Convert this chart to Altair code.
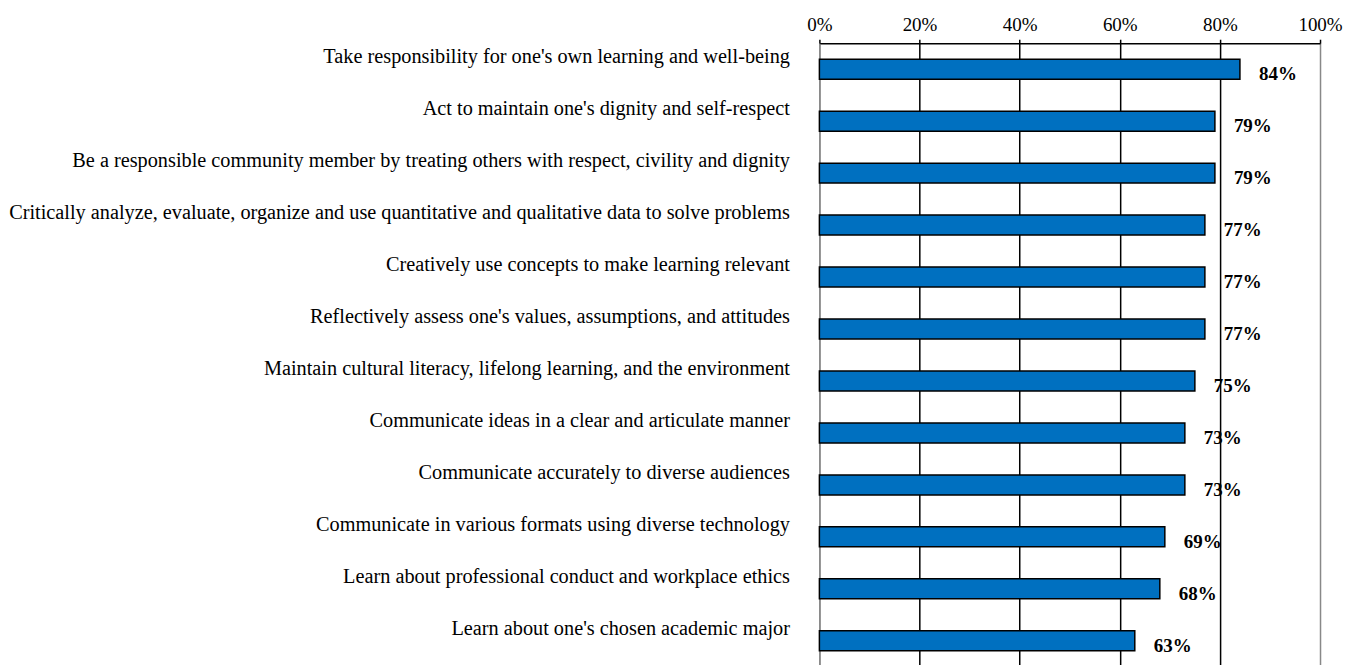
import altair as alt
import pandas as pd

categories = [
    "Take responsibility for one's own learning and well-being",
    "Act to maintain one's dignity and self-respect",
    "Be a responsible community member by treating others with respect, civility and dignity",
    "Critically analyze, evaluate, organize and use quantitative and qualitative data to solve problems",
    "Creatively use concepts to make learning relevant",
    "Reflectively assess one's values, assumptions, and attitudes",
    "Maintain cultural literacy, lifelong learning, and the environment",
    "Communicate ideas in a clear and articulate manner",
    "Communicate accurately to diverse audiences",
    "Communicate in various formats using diverse technology",
    "Learn about professional conduct and workplace ethics",
    "Learn about one's chosen academic major ",
]
values = [0.84, 0.79, 0.79, 0.77, 0.77, 0.77, 0.75, 0.73, 0.73, 0.69, 0.68, 0.63]
x_ticks = [0, 0.2, 0.4, 0.6, 0.8, 1.0]

df = pd.DataFrame({"label": categories, "value": values})

FONT = "Liberation Serif"

y_enc = alt.Y(
    "label:N",
    sort=None,
    title=None,
    scale=alt.Scale(paddingInner=0, paddingOuter=0, range=[0, 624]),
    axis=alt.Axis(
        ticks=False,
        labelPadding=30,
        labelOffset=-12,
        labelFont=FONT,
        labelFontSize=20.3,
        labelColor="black",
        labelLimit=1000,
        domainColor="#888888",
        domainWidth=1.5,
    ),
)

x_enc = alt.X(
    "value:Q",
    title=None,
    scale=alt.Scale(domain=[0, 1], nice=False),
    axis=alt.Axis(
        orient="top",
        values=x_ticks,
        format=".0%",
        labelFont=FONT,
        labelFontSize=19,
        labelColor="black",
        labelPadding=5,
        labelFlush=False,
        tickSize=4,
        tickColor="black",
        tickWidth=1.5,
        domainColor="black",
        domainWidth=1.5,
        grid=True,
        gridColor=alt.condition(
            "datum.value == 0 || datum.value == 1",
            alt.value("#888888"),
            alt.value("black"),
        ),
        gridWidth=1.5,
    ),
)

base = alt.Chart(df).encode(y=y_enc)

bars = base.mark_bar(
    color="#0070C0", stroke="black", strokeWidth=1.5, height=20
).encode(x=x_enc)

texts = base.mark_text(
    align="left", baseline="middle", dx=19, dy=5,
    font=FONT, fontSize=19, fontWeight="bold", color="black"
).encode(
    x=alt.X("value:Q", scale=alt.Scale(domain=[0, 1], nice=False)),
    text=alt.Text("value:Q", format=".0%"),
)

chart = (
    alt.layer(bars, texts)
    .properties(
        width=501, height=615, background="white",
        padding={"left": 0, "top": 7, "right": 5, "bottom": 0},
    )
    .configure_view(stroke=None)
)

chart.save("out.html", embed_options={"renderer": "svg", "actions": False})
